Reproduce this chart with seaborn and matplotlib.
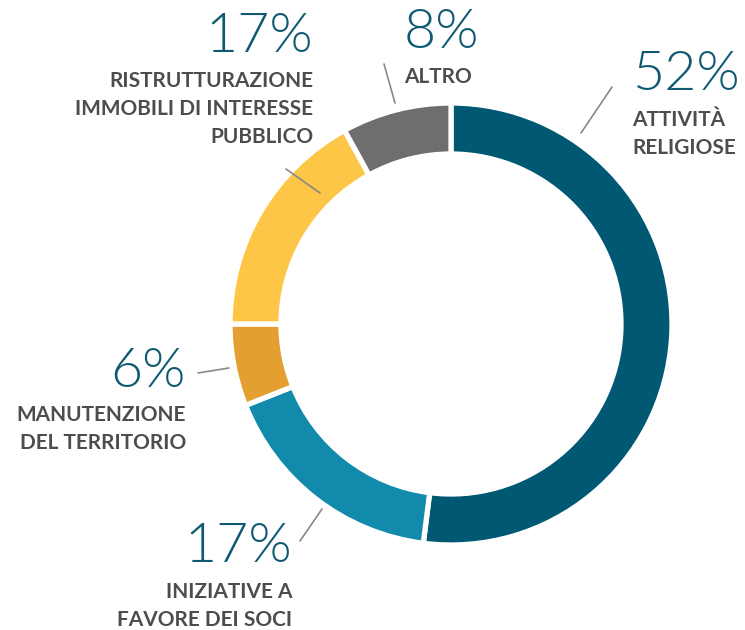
import matplotlib
matplotlib.use("Agg")
import matplotlib.pyplot as plt
import seaborn as sns

categories = ["ATTIVITÀ\nRELIGIOSE", "INIZIATIVE A\nFAVORE DEI SOCI", "MANUTENZIONE\nDEL TERRITORIO",
              "RISTRUTTURAZIONE\nIMMOBILI DI INTERESSE\nPUBBLICO", "ALTRO"]
values = [52, 17, 6, 17, 8]
pct_labels = ["52%", "17%", "6%", "17%", "8%"]
colors = ["#005873", "#128aab", "#e3a030", "#fdc646", "#6e6e6e"]

sns.set_theme(style="white")
plt.rcParams['font.family'] = ['Lato', 'DejaVu Sans']

W, H = 745, 630
fig = plt.figure(figsize=(W / 100, H / 100), dpi=100)
ax = fig.add_axes([0, 0, 1, 1])

cx, cy, R = 451, H - 324, 221
ax.pie(values, colors=colors, startangle=90, counterclock=False, center=(cx, cy), radius=R,
       wedgeprops=dict(width=51, edgecolor="white", linewidth=3.8), frame=True)
ax.set_xlim(0, W)
ax.set_ylim(0, H)
ax.axis("off")

pct_color = "#0e5a72"
txt_color = "#4d4d4d"
line_color = "#888888"

# (percent x, percent y, label x, label top y, ha, leader line)
layout = [
    (632, 75, 632, 120, "left", ((581, 133), (612, 87))),
    (292, 547, 292, 592, "right", ((322, 509), (300, 541))),
    (186, 372, 186, 415, "right", ((229, 368), (198, 373))),
    (313, 37, 313, 81, "right", ((320, 193), (286, 169))),
    (404, 33, 404, 77, "left", ((395, 103), (384, 64))),
]

for (px, py, lx, ly, ha, ln), pct, cat in zip(layout, pct_labels, categories):
    ax.text(px, H - py, pct, ha=ha, va="center", fontsize=40, fontweight=300, color=pct_color)
    for i, line in enumerate(cat.split("\n")):
        ax.text(lx, H - (ly + 28 * i), line, ha=ha, va="center", fontsize=15,
                fontweight="bold", color=txt_color)
    (x0, y0), (x1, y1) = ln
    ax.plot([x0, x1], [H - y0, H - y1], color=line_color, lw=1.2)

fig.savefig("out.png", dpi=100)
